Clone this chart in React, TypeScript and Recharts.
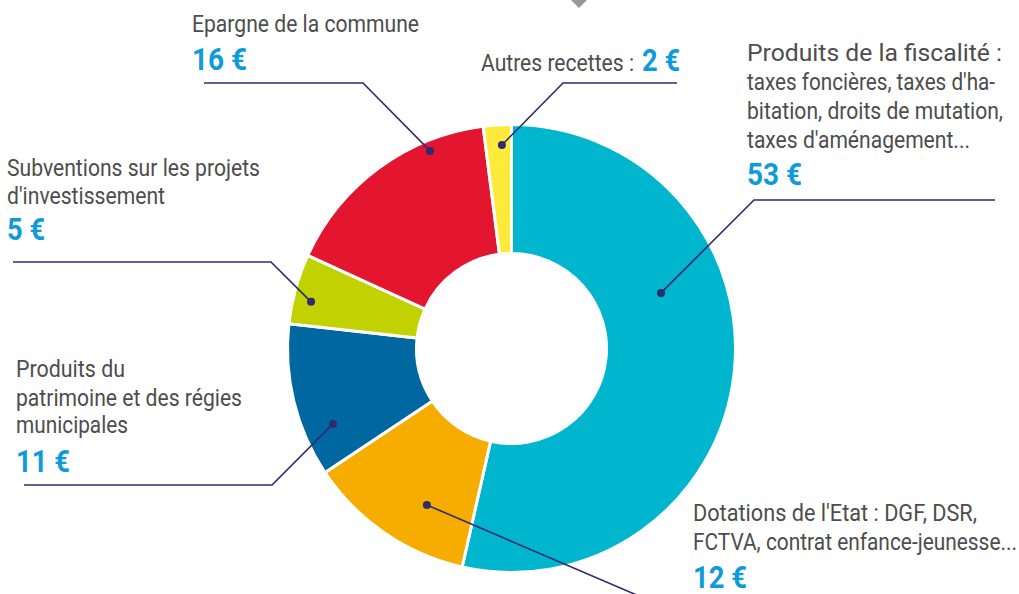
import React from 'react'
import { PieChart, Pie, Cell } from 'recharts'

// recettes de la commune, pour 100 € (sens horaire depuis midi)
const categories = [
  'Produits de la fiscalité',
  "Dotations de l'Etat",
  'Produits du patrimoine et des régies municipales',
  "Subventions sur les projets d'investissement",
  'Epargne de la commune',
  'Autres recettes',
]
const amounts = [53, 12, 11, 5, 16, 2]
const sliceColors = ['#00B6CE', '#F7AC00', '#0067A0', '#C2D100', '#E3152F', '#FDEA3A']

const labelTexts: string[][] = [
  ['Produits de la fiscalité :', "taxes foncières, taxes d'ha-", 'bitation, droits de mutation,', "taxes d'aménagement..."],
  ["Dotations de l'Etat : DGF, DSR,", 'FCTVA, contrat enfance-jeunesse...'],
  ['Produits du', 'patrimoine et des régies', 'municipales'],
  ['Subventions sur les projets', "d'investissement"],
  ['Epargne de la commune'],
  ['Autres recettes :'],
]

const GREY = '#4D4D4D'
const BLUE = '#0E9BDB'
const LINE = '#2F2B72'
const FONT = 'Roboto, "Liberation Sans", sans-serif'

// placement des étiquettes (pas des données)
const labelLayout = [
  { dotAngle: 20.4, dotR: 159.5, path: [[754, 200], [995, 200]], x: 747, base: [61, 90, 119, 148], widths: [255, 248, 256, 223], valueBase: 185, valueW: 55 },
  { dotAngle: -118.4, dotR: 177.9, path: [[660, 605]], x: 693, base: [521, 550], widths: [284, 324], valueBase: 588, valueW: 54 },
  { dotAngle: 202.9, dotR: 193.8, path: [[272, 485], [24, 485]], x: 16, base: [377, 406, 433], widths: [109, 226, 112], valueBase: 472, valueW: 54 },
  { dotAngle: 166.9, dotR: 205.8, path: [[271, 262], [13, 262]], x: 7, base: [176, 204], widths: [253, 158], valueBase: 240, valueW: 38 },
  { dotAngle: 112.4, dotR: 213.7, path: [[363, 83], [204, 83]], x: 192, base: [32], widths: [227], valueBase: 70, valueW: 55 },
  { dotAngle: 92.7, dotR: 203.7, path: [[563, 83], [677, 83]], x: 481, base: [71], widths: [153], valueBase: 71, valueW: 38, valueX: 642 },
]

const data = categories.map((name, i) => ({ name, value: amounts[i] }))

const RAD = Math.PI / 180

const renderLabel = (props: any) => {
  const { cx, cy, index } = props
  const l = labelLayout[index]
  const dx = cx + l.dotR * Math.cos(l.dotAngle * RAD)
  const dy = cy - l.dotR * Math.sin(l.dotAngle * RAD)
  const pts = [[dx, dy], ...l.path].map((p) => p.join(',')).join(' ')
  return (
    <g key={`label-${index}`}>
      <polyline points={pts} fill="none" stroke={LINE} strokeWidth={1.6} />
      <circle cx={dx} cy={dy} r={4} fill={LINE} />
      {labelTexts[index].map((t, j) => (
        <text
          key={j}
          x={l.x}
          y={l.base[j]}
          fill={GREY}
          fontSize={24.5}
          fontFamily={FONT}
          textLength={l.widths[j]}
          lengthAdjust="spacingAndGlyphs"
        >
          {t}
        </text>
      ))}
      <text
        x={l.valueX ?? l.x}
        y={l.valueBase}
        fill={BLUE}
        fontSize={32}
        fontWeight={700}
        fontFamily={FONT}
        textLength={l.valueW}
        lengthAdjust="spacingAndGlyphs"
      >
        {`${amounts[index]} €`}
      </text>
    </g>
  )
}

export default function App() {
  return (
    <div style={{ position: 'absolute', left: 0, top: 0, width: 1019, height: 594, background: '#fff', overflow: 'hidden' }}>
      <svg width={1019} height={594} style={{ position: 'absolute', left: 0, top: 0 }}>
        <polygon points="571,0 587,0 579,8" fill="#999" />
      </svg>
      <div style={{ position: 'absolute', left: 0, top: 0 }}>
        <PieChart width={1019} height={594} margin={{ top: 0, right: 0, bottom: 0, left: 0 }}>
          <Pie
            data={data}
            dataKey="value"
            nameKey="name"
            cx={511.5}
            cy={348.5}
            innerRadius={95}
            outerRadius={224}
            startAngle={90}
            endAngle={-270}
            stroke="#fff"
            strokeWidth={3}
            label={renderLabel}
            labelLine={false}
            isAnimationActive={false}
          >
            {data.map((d, i) => (
              <Cell key={d.name} fill={sliceColors[i]} />
            ))}
          </Pie>
        </PieChart>
      </div>
    </div>
  )
}
